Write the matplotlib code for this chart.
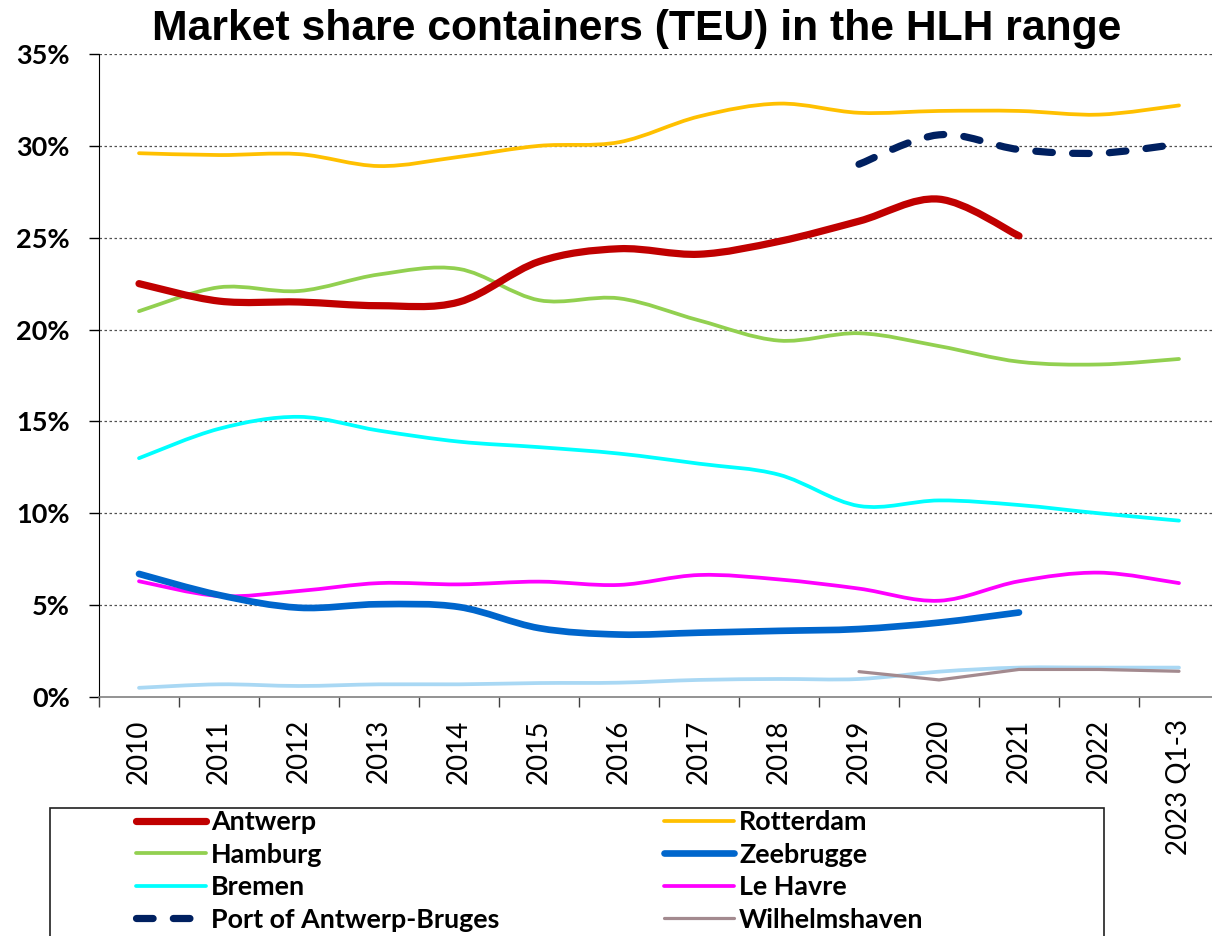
import numpy as np
import matplotlib
matplotlib.use('Agg')
import matplotlib.pyplot as plt
from matplotlib.path import Path
from matplotlib.patches import PathPatch, Rectangle
from matplotlib.lines import Line2D

# category labels
years = ['2010', '2011', '2012', '2013', '2014', '2015', '2016', '2017',
         '2018', '2019', '2020', '2021', '2022', '2023 Q1-3']

# market share in %
antwerp = [22.5, 21.55, 21.5, 21.3, 21.5, 23.7, 24.4, 24.1, 24.8, 25.9, 27.1, 25.1]
rotterdam = [29.6, 29.5, 29.55, 28.9, 29.4, 30.0, 30.2, 31.6, 32.3, 31.8, 31.9, 31.9, 31.7, 32.2]
hamburg = [21.0, 22.3, 22.1, 23.0, 23.3, 21.6, 21.7, 20.5, 19.4, 19.8, 19.1, 18.25, 18.1, 18.4]
zeebrugge = [6.7, 5.55, 4.86, 5.05, 4.9, 3.75, 3.4, 3.5, 3.6, 3.7, 4.05, 4.6]
bremen = [13.0, 14.6, 15.25, 14.5, 13.9, 13.6, 13.25, 12.7, 12.1, 10.4, 10.7, 10.45, 10.0, 9.6]
le_havre = [6.3, 5.5, 5.77, 6.2, 6.13, 6.28, 6.1, 6.64, 6.4, 5.9, 5.24, 6.3, 6.77, 6.2]
port_ab = [29.0, 30.6, 29.8, 29.6, 30.1]          # 2019 .. 2023 Q1-3
wilhelmshaven = [1.38, 0.93, 1.5, 1.5, 1.4]        # 2019 .. 2023 Q1-3
other = [0.5, 0.69, 0.6, 0.69, 0.69, 0.76, 0.78, 0.93, 0.98, 0.98, 1.38, 1.6, 1.6, 1.6]

LABEL_FONT = 'Lato'


def smooth_path(xs, ys):
    # excel-like smoothed line: catmull-rom turned into cubic bezier segments
    xs = np.asarray(xs, float)
    ys = np.asarray(ys, float)
    pts = np.column_stack([xs, ys])
    ext = np.vstack([pts[0], pts, pts[-1]])
    verts = [pts[0]]
    codes = [Path.MOVETO]
    for i in range(len(pts) - 1):
        p0, p1, p2, p3 = ext[i], ext[i + 1], ext[i + 2], ext[i + 3]
        verts += [p1 + (p2 - p0) / 6, p2 - (p3 - p1) / 6, p2]
        codes += [Path.CURVE4] * 3
    return Path(verts, codes)


def add_series(ax, start, values, color, lw, ls='-', smooth=True):
    xs = np.arange(start, start + len(values))
    if smooth:
        patch = PathPatch(smooth_path(xs, values), fill=False, edgecolor=color,
                          linewidth=lw, linestyle=ls, capstyle='round', joinstyle='round')
        ax.add_patch(patch)
    else:
        ax.plot(xs, values, color=color, lw=lw, ls=ls, solid_capstyle='round')
    return Line2D([], [], color=color, lw=lw, ls=ls,
                  solid_capstyle='round', dash_capstyle='round')


fig = plt.figure(figsize=(12.12, 9.36), dpi=100)
ax = fig.add_axes([99 / 1212, 1 - 697 / 936, 1120 / 1212, (697 - 54) / 936])

h_other = add_series(ax, 0, other, '#A9D8F4', 2.7)
h_wil = add_series(ax, 9, wilhelmshaven, '#A38A8F', 2.3, smooth=False)
h_lh = add_series(ax, 0, le_havre, '#FF00FF', 2.7)
h_bre = add_series(ax, 0, bremen, '#00FFFF', 2.7)
h_ham = add_series(ax, 0, hamburg, '#92D050', 2.7)
h_rot = add_series(ax, 0, rotterdam, '#FFC000', 2.7)
h_zee = add_series(ax, 0, zeebrugge, '#0066CC', 4.8)
h_ant = add_series(ax, 0, antwerp, '#C00000', 5.2)
h_pab = add_series(ax, 9, port_ab, '#002060', 5.2, ls=(0, (2.3, 2.8)))

ax.set_xlim(-0.5, 13.5)
ax.set_ylim(0, 35)

ax.set_yticks(np.arange(0, 36, 5))
ax.set_yticklabels([f'{v}%' for v in range(0, 36, 5)],
                   fontfamily=LABEL_FONT, fontweight='bold', fontsize=19.5)
ax.set_xticks(np.arange(len(years)))
ax.set_xticklabels(years, rotation=90, fontfamily=LABEL_FONT, fontsize=20, va='top')
ax.set_xticks(np.arange(-0.5, 13.5, 1), minor=True)
ax.tick_params(axis='x', which='major', length=0, pad=16)
ax.tick_params(axis='x', which='minor', length=7, width=1, color='#404040', direction='out')
ax.tick_params(axis='y', length=7, width=1, color='black', pad=14)

for s in ['top', 'right']:
    ax.spines[s].set_visible(False)
ax.spines['left'].set_color('black')
ax.spines['bottom'].set_color('#808080')
ax.spines['bottom'].set_linewidth(1.2)

for v in range(5, 36, 5):
    ax.axhline(v, color='#505050', lw=0.9, ls=(0, (2, 2)), zorder=0)

fig.text(637 / 1212, 1 - 40 / 936, 'Market share containers (TEU) in the HLH range',
         ha='center', va='baseline', fontsize=30.7, fontweight='bold',
         fontfamily='Liberation Sans')

# legend, filled column by column
handles = [h_ant, h_ham, h_bre, h_pab, h_rot, h_zee, h_lh, h_wil]
labels = ['Antwerp', 'Hamburg', 'Bremen', 'Port of Antwerp-Bruges',
          'Rotterdam', 'Zeebrugge', 'Le Havre', 'Wilhelmshaven']
fig.legend(handles, labels, ncol=2, loc='upper left',
           bbox_to_anchor=(136 / 1212, 1 - 810 / 936), frameon=False,
           borderpad=0, borderaxespad=0, handlelength=2.6, handletextpad=0.19,
           columnspacing=6.1, labelspacing=0.32,
           prop={'family': LABEL_FONT, 'weight': 'bold', 'size': 19.4})
fig.patches.append(Rectangle((50 / 1212, -0.05), (1104 - 50) / 1212, 0.05 + (936 - 808) / 936,
                             transform=fig.transFigure, fill=False,
                             edgecolor='#202020', linewidth=1.2))

fig.savefig('out.png', dpi=100)
